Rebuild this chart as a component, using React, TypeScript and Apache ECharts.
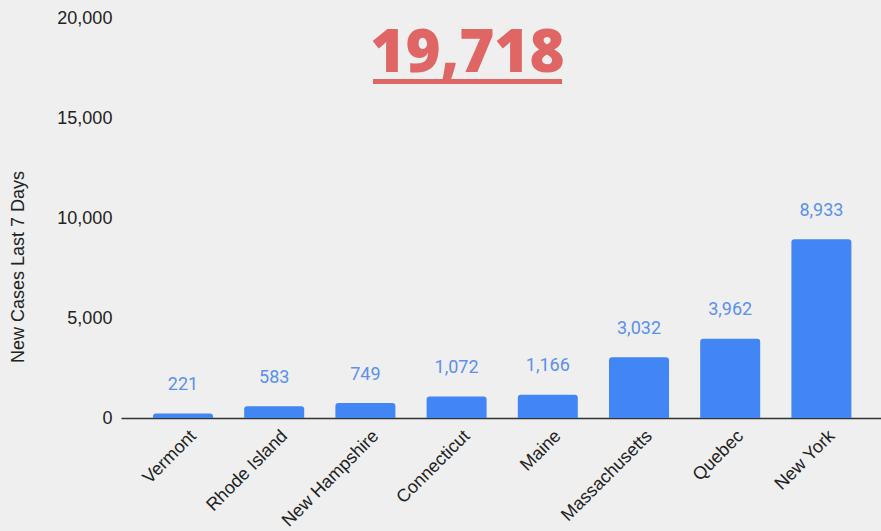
import React, { useEffect, useRef } from "react";
import * as echarts from "echarts";

const categories = ["Vermont", "Rhode Island", "New Hampshire", "Connecticut", "Maine", "Massachusetts", "Quebec", "New York"];
const newCases = [221, 583, 749, 1072, 1166, 3032, 3962, 8933];
const totalLabel = "19,718";
const yAxisName = "New Cases Last 7 Days";

const fmt = (v: number) => v.toLocaleString("en-US");

export default function App() {
  const ref = useRef<HTMLDivElement>(null);
  useEffect(() => {
    document.body.style.margin = "0";
    document.body.style.background = "#efefef";
    const chart = echarts.init(ref.current!, null, { renderer: "svg" });
    chart.setOption({
      animation: false,
      backgroundColor: "#efefef",
      grid: [
        { left: 137.4, right: 14, top: 18, bottom: 113, containLabel: false, outerBoundsMode: "none" },
        { left: 122, right: 0, top: 18, bottom: 113, containLabel: false, outerBoundsMode: "none" },
      ],
      xAxis: [
        {
          type: "category",
          gridIndex: 0,
          data: categories,
          axisLine: { show: false },
          axisTick: { show: false },
          axisLabel: {
            interval: 0,
            rotate: 45,
            margin: 5,
            fontSize: 18,
            lineHeight: 28,
            verticalAlign: "top",
            color: "#222",
            fontFamily: "Liberation Sans, Arial, sans-serif",
          },
        },
        {
          type: "value",
          gridIndex: 1,
          min: 0,
          max: 1,
          axisLine: { show: true, onZero: false, lineStyle: { color: "#333", width: 1.3 } },
          axisTick: { show: false },
          axisLabel: { show: false },
          splitLine: { show: false },
        },
      ],
      yAxis: [
        {
          type: "value",
          gridIndex: 0,
          min: 0,
          max: 20000,
          interval: 5000,
          axisLine: { show: false },
          axisTick: { show: false },
          splitLine: { show: false },
          axisLabel: {
            margin: 25,
            fontSize: 18,
            color: "#222",
            fontFamily: "Liberation Sans, Arial, sans-serif",
            formatter: (v: number) => fmt(v),
          },
          name: yAxisName,
          nameLocation: "middle",
          nameGap: 110,
          nameTextStyle: {
            fontSize: 18,
            color: "#222",
            fontFamily: "Liberation Sans, Arial, sans-serif",
            padding: [0, 98, 0, 0],
          },
        },
        { type: "value", gridIndex: 1, show: false, min: 0, max: 1 },
      ],
      graphic: [
        {
          type: "text",
          x: 467.5,
          y: 49,
          style: {
            text: totalLabel,
            x: 0,
            y: 0,
            fill: "#e06666",
            font: "800 60px 'Open Sans', sans-serif",
            textAlign: "center",
            textVerticalAlign: "middle",
          },
        },
        {
          type: "rect",
          shape: { x: 373, y: 79, width: 189, height: 5 },
          style: { fill: "#e06666" },
        },
      ],
      series: [
        {
          type: "bar",
          xAxisIndex: 0,
          yAxisIndex: 0,
          data: newCases,
          barWidth: 60,
          itemStyle: { color: "#4285f4", borderRadius: [3, 3, 0, 0] },
          label: {
            show: true,
            position: "top",
            distance: 21,
            fontSize: 18,
            color: "#5b90ee",
            fontFamily: "Roboto, sans-serif",
            formatter: (p: any) => fmt(p.value),
          },
        },
      ],
    });
    return () => chart.dispose();
  }, []);
  return <div ref={ref} style={{ position: "absolute", left: 0, top: 0, width: 881, height: 531 }} />;
}
